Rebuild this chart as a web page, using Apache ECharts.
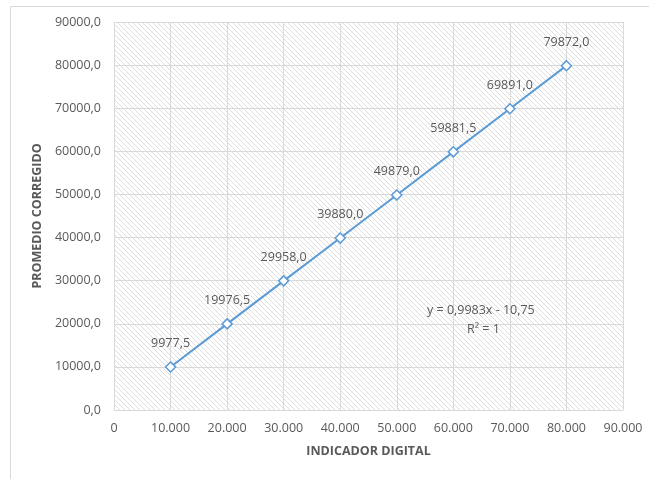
<!DOCTYPE html>
<html>
<head>
<meta charset="utf-8">
<script src="https://cdn.jsdelivr.net/npm/echarts@6/dist/echarts.min.js"></script>
<style>
html,body{margin:0;padding:0;background:#fff;}
#c{width:649px;height:479px;}
</style>
</head>
<body>
<div id="c"></div>
<script>
var xValues = [10000, 20000, 30000, 40000, 50000, 60000, 70000, 80000];
var yValues = [9977.5, 19976.5, 29958.0, 39880.0, 49879.0, 59881.5, 69891.0, 79872.0];
var xTitle = 'INDICADOR DIGITAL';
var yTitle = 'PROMEDIO CORREGIDO';
var equationLines = ['y = 0,9983x - 10,75', 'R² = 1'];

function makeHatch() {
  var s = 5;
  var cv = document.createElement('canvas');
  cv.width = s; cv.height = s;
  var ctx = cv.getContext('2d');
  ctx.fillStyle = '#ffffff';
  ctx.fillRect(0, 0, s, s);
  ctx.strokeStyle = '#dedede';
  ctx.lineWidth = 1;
  ctx.beginPath();
  ctx.moveTo(-1, -1); ctx.lineTo(s + 1, s + 1);
  ctx.moveTo(-1, s - 1); ctx.lineTo(1, s + 1);
  ctx.moveTo(s - 1, -1); ctx.lineTo(s + 1, 1);
  ctx.stroke();
  return cv;
}

var data = xValues.map(function (x, i) { return [x, yValues[i]]; });
var fmtY = function (v) { return v.toFixed(1).replace('.', ','); };
var fmtX = function (v) {
  if (v === 0) return '0';
  return String(v).replace(/\B(?=(\d{3})+(?!\d))/g, '.');
};
var txt = '#595959';
var font = '"Open Sans", "Liberation Sans", sans-serif';

var chart = echarts.init(document.getElementById('c'), null, { renderer: 'canvas' });
chart.setOption({
  animation: false,
  backgroundColor: '#ffffff',
  textStyle: { fontFamily: font },
  graphic: [
    { type: 'rect', left: 8, top: 4, z: -10, silent: true,
      shape: { width: 700, height: 520 },
      style: { fill: 'none', stroke: '#d9d9d9', lineWidth: 1 } },
    { type: 'text', left: 427, top: 304, z: 10, silent: true,
      style: { text: equationLines[0], fill: txt, font: '12.5px ' + font } },
    { type: 'text', left: 467, top: 323, z: 10, silent: true,
      style: { text: equationLines[1], fill: txt, font: '12.5px ' + font } }
  ],
  grid: {
    left: 114, right: 26, top: 22, bottom: 69,
    show: true,
    borderWidth: 0,
    backgroundColor: { image: makeHatch(), repeat: 'repeat' }
  },
  xAxis: {
    type: 'value', min: 0, max: 90000, interval: 10000,
    name: xTitle, nameLocation: 'middle', nameGap: 35,
    nameTextStyle: { color: txt, fontWeight: 'bold', fontSize: 12.5, fontFamily: font },
    axisLine: { show: false }, axisTick: { show: false },
    axisLabel: { color: txt, fontSize: 12.5, margin: 12, formatter: fmtX, fontFamily: font },
    splitLine: { show: true, lineStyle: { color: '#d9d9d9', width: 1 } }
  },
  yAxis: {
    type: 'value', min: 0, max: 90000, interval: 10000,
    name: yTitle, nameLocation: 'middle', nameGap: 68,
    nameTextStyle: { color: txt, fontWeight: 'bold', fontSize: 12.5, fontFamily: font },
    axisLine: { show: false }, axisTick: { show: false },
    axisLabel: { color: txt, fontSize: 12.5, margin: 13, formatter: fmtY, fontFamily: font },
    splitLine: { show: true, lineStyle: { color: '#d9d9d9', width: 1 } }
  },
  series: [{
    type: 'line',
    data: data,
    lineStyle: { color: '#5B9BD5', width: 2 },
    symbol: 'diamond',
    symbolSize: 10,
    showAllSymbol: true,
    itemStyle: { color: '#ffffff', borderColor: '#5B9BD5', borderWidth: 1.5 },
    label: {
      show: true, position: 'top', distance: 11,
      color: txt, fontSize: 12.5, fontFamily: font,
      formatter: function (p) { return fmtY(p.value[1]); }
    },
    emphasis: { disabled: true }
  }]
});
</script>
</body>
</html>
